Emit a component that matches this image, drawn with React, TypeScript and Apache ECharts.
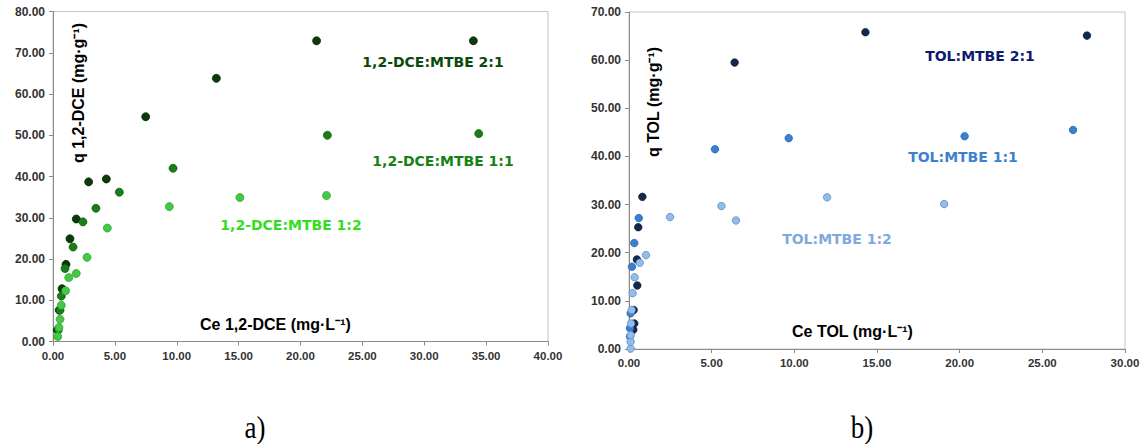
import React, { useEffect, useRef } from "react";
import * as echarts from "echarts";

// ---- data: a) 1,2-DCE ----
const dce21X = [0.35, 0.5, 0.73, 1.05, 1.37, 1.88, 2.88, 4.31, 7.49, 13.2, 21.3, 33.97];
const dce21Y = [2.8, 7.6, 12.8, 18.7, 24.9, 29.7, 38.7, 39.4, 54.5, 63.8, 72.9, 72.9];
const dce11X = [0.43, 0.57, 0.67, 0.97, 1.62, 2.42, 3.47, 5.36, 9.7, 22.17, 34.4];
const dce11Y = [2.8, 7.6, 11.0, 17.7, 22.9, 29.0, 32.3, 36.2, 42.0, 50.0, 50.4];
const dce12X = [0.38, 0.48, 0.57, 0.67, 1.02, 1.27, 1.88, 2.75, 4.39, 9.4, 15.1, 22.1];
const dce12Y = [1.2, 3.4, 5.4, 8.8, 12.3, 15.5, 16.5, 20.4, 27.5, 32.7, 34.9, 35.4];

// ---- data: b) TOL ----
const tol21X = [0.26, 0.32, 0.28, 0.5, 0.48, 0.56, 0.81, 6.39, 14.3, 27.7];
const tol21Y = [4.0, 5.3, 8.1, 13.2, 18.6, 25.3, 31.6, 59.5, 65.8, 65.1];
const tol11X = [0.06, 0.06, 0.1, 0.18, 0.32, 0.59, 5.2, 9.66, 20.3, 26.86];
const tol11Y = [2.6, 4.3, 7.4, 17.1, 22.0, 27.2, 41.5, 43.8, 44.2, 45.5];
const tol12X = [0.1, 0.1, 0.1, 0.12, 0.16, 0.22, 0.34, 0.65, 1.03, 2.48, 5.59, 6.47, 11.98, 19.06];
const tol12Y = [0.1, 1.5, 2.9, 5.3, 8.1, 11.6, 14.9, 17.9, 19.5, 27.4, 29.7, 26.7, 31.5, 30.1];

const seriesNamesA = ["1,2-DCE:MTBE 2:1", "1,2-DCE:MTBE 1:1", "1,2-DCE:MTBE 1:2"];
const seriesNamesB = ["TOL:MTBE 2:1", "TOL:MTBE 1:1", "TOL:MTBE 1:2"];
const axisA = { xMax: 40, yMax: 80 };
const axisB = { xMax: 30, yMax: 70 };
const panelLabels = ["a)", "b)"];

const zip = (xs: number[], ys: number[]) => xs.map((x, i) => [x, ys[i]]);

const FONT = "'Liberation Sans', Arial, sans-serif";
const ANN_FONT = "'DejaVu Sans', Verdana, sans-serif";

export default function App() {
  const ref = useRef<HTMLDivElement>(null);
  useEffect(() => {
    if (!ref.current) return;
    const chart = echarts.init(ref.current, undefined, { renderer: "svg" });

    const tickLabel = (size: number) => ({
      fontFamily: FONT,
      fontWeight: "bold" as const,
      fontSize: size,
      color: "#333333",
      margin: 8,
      formatter: (v: number) => v.toFixed(2),
    });
    const axisLine = { show: true, lineStyle: { color: "#8a8a8a", width: 1 } };
    const axisTick = { show: true, inside: false, length: 4, lineStyle: { color: "#8a8a8a" } };

    const mkX = (idx: number, max: number) => ({
      type: "value",
      gridIndex: idx,
      min: 0,
      max,
      interval: 5,
      splitLine: { show: false },
      axisLine,
      axisTick,
      axisLabel: tickLabel(11.5),
    });
    const mkY = (idx: number, max: number) => ({
      type: "value",
      gridIndex: idx,
      min: 0,
      max,
      interval: 10,
      splitLine: { show: false },
      axisLine,
      axisTick,
      axisLabel: tickLabel(12),
    });

    const mkSeries = (
      name: string,
      xi: number,
      xs: number[],
      ys: number[],
      color: string,
      border: string,
      size: number
    ) => ({
      name,
      type: "scatter",
      xAxisIndex: xi,
      yAxisIndex: xi,
      data: zip(xs, ys),
      symbolSize: size,
      itemStyle: { color, borderColor: border, borderWidth: 0.8, opacity: 1 },
    });

    const txt = (
      text: string,
      x: number,
      y: number,
      color: string,
      font: string,
      rotation = 0,
      align = "center"
    ) => ({
      type: "text",
      x,
      y,
      rotation,
      style: {
        text,
        fill: color,
        font,
        textAlign: align,
        textVerticalAlign: "middle",
      },
    });
    const ann = `bold 14px ${ANN_FONT}`;
    const ttl = `bold 16px ${FONT}`;
    const serif = "27px 'Liberation Serif', 'Times New Roman', serif";

    chart.setOption({
      animation: false,
      backgroundColor: "#ffffff",
      grid: [
        { left: 53, top: 11.5, width: 495, height: 330, show: true, borderColor: "#c4c4c4", borderWidth: 1, containLabel: false },
        { left: 629, top: 12, width: 496, height: 337, show: true, borderColor: "#c4c4c4", borderWidth: 1, containLabel: false },
      ],
      xAxis: [mkX(0, axisA.xMax), mkX(1, axisB.xMax)],
      yAxis: [mkY(0, axisA.yMax), mkY(1, axisB.yMax)],
      series: [
        mkSeries(seriesNamesA[0], 0, dce21X, dce21Y, "#0b3a0b", "#062806", 8),
        mkSeries(seriesNamesA[1], 0, dce11X, dce11Y, "#1a7d1a", "#106010", 8),
        mkSeries(seriesNamesA[2], 0, dce12X, dce12Y, "#45c845", "#2fa82f", 8),
        mkSeries(seriesNamesB[0], 1, tol21X, tol21Y, "#10294d", "#0a1c38", 7.5),
        mkSeries(seriesNamesB[1], 1, tol11X, tol11Y, "#3b7fd0", "#2c68b0", 7.5),
        mkSeries(seriesNamesB[2], 1, tol12X, tol12Y, "#94bce8", "#5f8fc8", 7.5),
      ],
      graphic: [
        txt(seriesNamesA[0], 433, 62, "#0b4a0b", ann),
        txt(seriesNamesA[1], 443, 161, "#148214", ann),
        txt(seriesNamesA[2], 291, 225, "#33dd1f", ann),
        txt("Ce 1,2-DCE (mg·L⁻¹)", 200, 324, "#000000", ttl, 0, "left"),
        txt("q 1,2-DCE (mg·g⁻¹)", 78, 93, "#000000", ttl, Math.PI / 2),
        txt(seriesNamesB[0], 980, 56, "#0d1a70", ann),
        txt(seriesNamesB[1], 963, 157, "#3d80cf", ann),
        txt(seriesNamesB[2], 837, 239, "#80aade", ann),
        txt("Ce TOL (mg·L⁻¹)", 792, 331, "#000000", ttl, 0, "left"),
        txt("q TOL (mg·g⁻¹)", 653, 102, "#000000", ttl, Math.PI / 2),
        {
          type: "text",
          x: 255,
          y: 427,
          scaleY: 1.2,
          style: { text: panelLabels[0], fill: "#000", font: serif, textAlign: "center", textVerticalAlign: "middle" },
        },
        {
          type: "text",
          x: 862,
          y: 427,
          scaleY: 1.2,
          style: { text: panelLabels[1], fill: "#000", font: serif, textAlign: "center", textVerticalAlign: "middle" },
        },
      ],
    });
    return () => chart.dispose();
  }, []);
  return (
    <div
      ref={ref}
      style={{ position: "fixed", left: 0, top: 0, width: 1145, height: 444, background: "#fff" }}
    />
  );
}
